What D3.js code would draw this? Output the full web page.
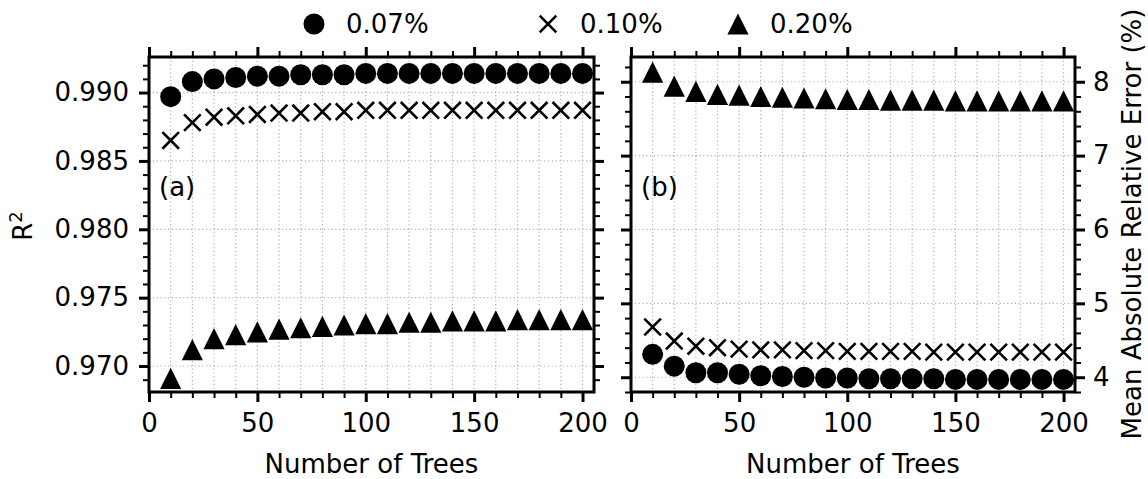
<!DOCTYPE html>
<html><head><meta charset="utf-8">
<script src="https://cdn.jsdelivr.net/npm/d3@7"></script>
<style>
body{margin:0;background:#fff;}
text{font-family:"DejaVu Sans",sans-serif;fill:#000;}
</style></head>
<body><svg id="c" width="1148" height="479"></svg>
<script>
const trees = [10,20,30,40,50,60,70,80,90,100,110,120,130,140,150,160,170,180,190,200];
const seriesNames = ["0.07%","0.10%","0.20%"];
const r2_007 = [0.9897,0.9908,0.9910,0.9911,0.9912,0.9912,0.9913,0.9913,0.9913,0.9914,0.9914,0.9914,0.9914,0.9914,0.9914,0.9914,0.9914,0.9914,0.9914,0.9914];
const r2_010 = [0.9865,0.9878,0.9882,0.9883,0.9884,0.9885,0.9885,0.9886,0.9886,0.9887,0.9887,0.9887,0.9887,0.9887,0.9887,0.9887,0.9887,0.9887,0.9887,0.9887];
const r2_020 = [0.9691,0.9712,0.9720,0.9723,0.9725,0.9727,0.9728,0.9729,0.9730,0.9731,0.9731,0.9732,0.9732,0.9733,0.9733,0.9733,0.9734,0.9734,0.9734,0.9734];
const mare_007 = [4.31,4.15,4.06,4.06,4.04,4.02,4.01,4.00,3.99,3.99,3.98,3.98,3.98,3.98,3.97,3.97,3.97,3.97,3.97,3.97];
const mare_010 = [4.68,4.49,4.42,4.40,4.38,4.37,4.37,4.36,4.36,4.35,4.35,4.35,4.35,4.34,4.34,4.34,4.34,4.34,4.34,4.34];
const mare_020 = [8.13,7.94,7.87,7.83,7.82,7.80,7.79,7.78,7.77,7.76,7.76,7.75,7.75,7.75,7.74,7.74,7.74,7.74,7.74,7.74];
const xTicks = [0,50,100,150,200];
const r2Ticks = [0.970,0.975,0.980,0.985,0.990];
const mareTicks = [4,5,6,7,8];

const svg = d3.select("#c");
const FS = 26;
const yTop = 57, yBot = 392;
const panels = [
  {x0:149, x1:594, dom:[0.9681,0.9926], ticks:r2Ticks, fmt:d3.format(".3f"),
   minor:d3.range(0.969,0.9925,0.001), data:[r2_007,r2_010,r2_020], side:"left", tag:"(a)"},
  {x0:631, x1:1075, dom:[3.80,8.335], ticks:mareTicks, fmt:d3.format("d"),
   minor:d3.range(3.8,8.31,0.2), data:[mare_007,mare_010,mare_020], side:"right", tag:"(b)"}
];

function sym(g, kind, x, y){
  if(kind===0){
    g.append("circle").attr("cx",x).attr("cy",y).attr("r",10.5).attr("fill","#000");
  } else if(kind===1){
    const h=8.3;
    g.append("path").attr("d",`M${x-h},${y-h}L${x+h},${y+h}M${x-h},${y+h}L${x+h},${y-h}`)
      .attr("stroke","#000").attr("stroke-width",2.6).attr("fill","none");
  } else {
    const h=10.6;
    g.append("path").attr("d",`M${x},${y-h}L${x+h},${y+h}L${x-h},${y+h}Z`).attr("fill","#000");
  }
}

panels.forEach(p=>{
  const x = d3.scaleLinear().domain([0,205.3]).range([p.x0,p.x1]);
  const y = d3.scaleLinear().domain(p.dom).range([yBot,yTop]);
  const g = svg.append("g");
  const grid = g.append("g").attr("stroke","#b0b0b0").attr("stroke-width",1.2).attr("stroke-dasharray","1.2,2.6");
  d3.range(10,201,10).forEach(v=>grid.append("line").attr("x1",x(v)).attr("x2",x(v)).attr("y1",yTop).attr("y2",yBot));
  p.ticks.forEach(v=>grid.append("line").attr("x1",p.x0).attr("x2",p.x1).attr("y1",y(v)).attr("y2",y(v)));
  const minorX = d3.range(0,201,10).filter(v=>v%50!==0);
  function draw(a, transform, width){
    const gg = g.append("g").attr("transform",transform).call(a);
    gg.select(".domain").remove();
    gg.selectAll(".tick line").attr("stroke","#000").attr("stroke-width",width);
    gg.selectAll("text").attr("font-size",FS).attr("font-family","DejaVu Sans");
    return gg;
  }
  draw(d3.axisBottom(x).tickValues(xTicks).tickSize(10).tickPadding(12), `translate(0,${yBot})`, 3);
  draw(d3.axisBottom(x).tickValues(minorX).tickSize(6).tickFormat(()=>""), `translate(0,${yBot})`, 2);
  draw(d3.axisTop(x).tickValues(xTicks).tickSize(10).tickFormat(()=>""), `translate(0,${yTop})`, 3);
  draw(d3.axisTop(x).tickValues(minorX).tickSize(6).tickFormat(()=>""), `translate(0,${yTop})`, 2);
  const minorY = p.minor.filter(v=>!p.ticks.some(t=>Math.abs(t-v)<1e-6));
  const labL = p.side==="left", labR = p.side==="right";
  draw(d3.axisLeft(y).tickValues(p.ticks).tickSize(10).tickPadding(10).tickFormat(labL?p.fmt:()=>""), `translate(${p.x0},0)`, 3);
  draw(d3.axisLeft(y).tickValues(minorY).tickSize(6).tickFormat(()=>""), `translate(${p.x0},0)`, 2);
  draw(d3.axisRight(y).tickValues(p.ticks).tickSize(10).tickPadding(8).tickFormat(labR?p.fmt:()=>""), `translate(${p.x1},0)`, 3);
  draw(d3.axisRight(y).tickValues(minorY).tickSize(6).tickFormat(()=>""), `translate(${p.x1},0)`, 2);
  const mg = g.append("g");
  p.data.forEach((arr,k)=>{
    arr.forEach((v,i)=>sym(mg,k,x(trees[i]),y(v)));
  });
  g.append("rect").attr("x",p.x0).attr("y",yTop).attr("width",p.x1-p.x0).attr("height",yBot-yTop)
    .attr("fill","none").attr("stroke","#000").attr("stroke-width",3);
  g.append("text").attr("x",p.x0+10).attr("y",196).attr("font-size",FS).text(p.tag);
  g.append("text").attr("x",(p.x0+p.x1)/2).attr("y",473).attr("text-anchor","middle").attr("font-size",FS).text("Number of Trees");
});

const yl = svg.append("text").attr("transform","translate(32,226) rotate(-90)").attr("text-anchor","middle").attr("font-size",FS);
yl.append("tspan").text("R");
yl.append("tspan").attr("dy",-10).attr("font-size",18).text("2");
svg.append("text").attr("transform","translate(1141,224) rotate(-90)").attr("text-anchor","middle").attr("font-size",FS)
  .text("Mean Absolute Relative Error (%)");

const leg = svg.append("g");
const legX = [314, 548, 738];
seriesNames.forEach((n,k)=>{
  sym(leg,k,legX[k],24);
  leg.append("text").attr("x",legX[k]+32).attr("y",33).attr("font-size",FS).text(n);
});
</script></body></html>
